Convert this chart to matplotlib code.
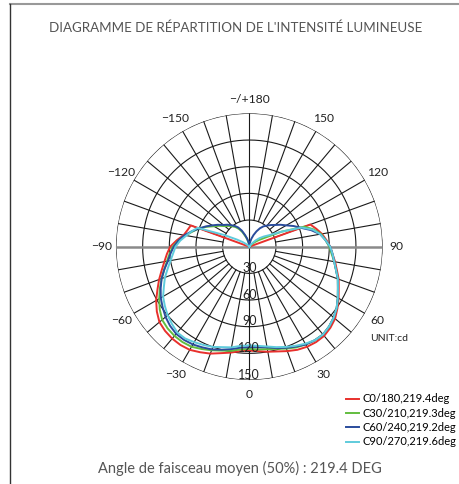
import numpy as np
import matplotlib
matplotlib.use("Agg")
import matplotlib.pyplot as plt
from matplotlib.lines import Line2D

plt.rcParams['font.family'] = ['Lato', 'DejaVu Sans']

# angles C-plane (deg), 0 = bas, sens anti-horaire
angles = list(range(-180, 181, 5))

# intensites en cd (un point tous les 5 deg)
c0_180 = [0, 0, 0, 0, 0, 0, 0, 0, 0, 0, 0, 0,          # -180 .. -125
          0, 0, 70, 72, 75, 82, 89, 93, 97, 102,        # -120 .. -75
          108, 114, 121, 127, 132, 134, 135, 135, 134, 131,  # -70 .. -25
          128, 124, 121, 118, 117, 118, 120, 122, 125, 128,  # -20 .. 25
          130, 131, 131, 129, 126, 121, 116, 111, 107, 102,  # 30 .. 75
          98, 94, 91, 87, 83, 78, 73, 0, 0, 0,               # 80 .. 125
          0, 0, 0, 0, 0, 0, 0, 0, 0, 0, 0]                   # 130 .. 180
c30_210 = [0, 2, 4, 8, 12, 18, 23, 27, 30, 33, 36, 41,
           46, 53, 60, 66, 73, 80, 86, 90, 94, 99,
           105, 111, 117, 123, 128, 130, 131, 131, 130, 127,
           124, 121, 119, 116, 115, 116, 117, 119, 122, 125,
           127, 128.5, 129, 127, 124, 120, 115, 110, 106, 101,
           97, 93, 90, 86, 82, 75, 66, 40, 20, 13,
           8, 4, 0, 0, 0, 0, 0, 0, 0, 0, 0]
c60_240 = [0, 2.5, 5.5, 9.5, 14, 20, 25, 28.5, 31.5, 35, 38, 43,
           48, 54, 60, 67, 74, 80, 85, 89, 93, 99,
           105, 110, 115, 119, 123, 126, 128, 128, 127, 125,
           123, 120, 117, 114, 113, 113.5, 115, 118, 121, 124,
           127, 128.5, 129, 127, 124, 120, 115, 110, 106, 101,
           97, 94, 91, 86, 81, 72, 62, 55, 48, 43,
           38, 34.5, 31, 28, 24, 19, 14, 9.5, 5.5, 2.5, 0]
c90_270 = [0, 0, 0, 0, 0, 0, 0, 0, 0, 2, 4.5, 9,
           16, 31, 62, 67, 72, 78, 83, 86, 90, 95,
           101, 106, 112, 116, 120, 123, 126, 126, 124, 122,
           120, 117, 115, 112, 111, 112, 114, 117, 120, 123,
           126, 128.5, 129, 127, 124, 120, 115, 110, 106, 101,
           97, 94, 91, 86, 81, 74, 63, 40, 26, 20,
           15, 10, 5, 2, 0, 0, 0, 0, 0, 0, 0]

series = [c0_180, c30_210, c60_240, c90_270]
labels = ["C0/180,219.4deg", "C30/210,219.3deg", "C60/240,219.2deg", "C90/270,219.6deg"]
colors = ["#e8302c", "#62bd3f", "#2a4c9c", "#5fcbdc"]

ang_ticks = [0, 30, 60, 90, 120, 150, 180, -150, -120, -90, -60, -30]
ang_labels = ["0", "30", "60", "90", "120", "150", "\u2212/+180",
              "\u2212150", "\u2212120", "\u221290", "\u221260", "\u221230"]
rings = [30, 60, 90, 120, 150]

fig = plt.figure(figsize=(4.6, 4.84), dpi=100)
ax = fig.add_axes([0.2521, 0.2148, 0.5797, 0.5510], projection='polar')
ax.set_theta_zero_location('S')
ax.set_theta_direction(1)
ax.set_ylim(0, 150)
ax.grid(False)
ax.set_xticks([])
ax.set_yticks([])
ax.spines['polar'].set_visible(False)

# grille
t = np.linspace(0, 2 * np.pi, 361)
for r in rings:
    ax.plot(t, np.full_like(t, r), color='#1a1a1a', lw=0.8, zorder=1)
for a in range(0, 360, 10):
    if a % 90 == 0:
        continue
    ax.plot([np.radians(a)] * 2, [30, 150], color='#1a1a1a', lw=0.8, zorder=1)
ax.plot([0, np.pi], [150, 150], color='#1a1a1a', lw=0.8, zorder=1)
ax.plot([np.pi / 2, -np.pi / 2], [150, 150], color='#8a8a8a', lw=1.8, zorder=1)

# courbes
th = np.radians(angles)
for vals, lab, c in zip(series, labels, colors):
    assert len(vals) == len(angles)
    ax.plot(th, vals, color=c, lw=1.4, label=lab, zorder=3,
            solid_joinstyle='round')

# etiquettes
for a, lab in zip(ang_ticks, ang_labels):
    ax.text(np.radians(a), 166, lab, ha='center', va='center', fontsize=8.7,
            color='#222222', clip_on=False)
for r in rings:
    ax.text(0, r - 6, str(r), ha='center', va='center', fontsize=9,
            color='#222222', zorder=4)

fig.text(0.804, 0.301, "UNIT:cd", fontsize=7.5, color='#222222', va='center')

fig.text(0.512, 0.942, "DIAGRAMME DE R\u00c9PARTITION DE L'INTENSIT\u00c9 LUMINEUSE",
         ha='center', va='center', fontsize=9.6, color='#555555')
fig.text(0.522, 0.033, "Angle de faisceau moyen (50%) : 219.4 DEG",
         ha='center', va='center', fontsize=10.5, color='#555555')

fig.legend(loc='upper left', bbox_to_anchor=(0.752, 0.187), frameon=False,
           fontsize=8, handlelength=1.2, handletextpad=0.3, labelspacing=0.3,
           borderaxespad=0, borderpad=0)

# cadre
fig.add_artist(Line2D([0.022, 1.0], [0.992, 0.992], color='#999999', lw=1.5))
fig.add_artist(Line2D([0.022, 0.022], [0.0, 0.992], color='#333333', lw=1.0))

fig.savefig("out.png", dpi=100)
